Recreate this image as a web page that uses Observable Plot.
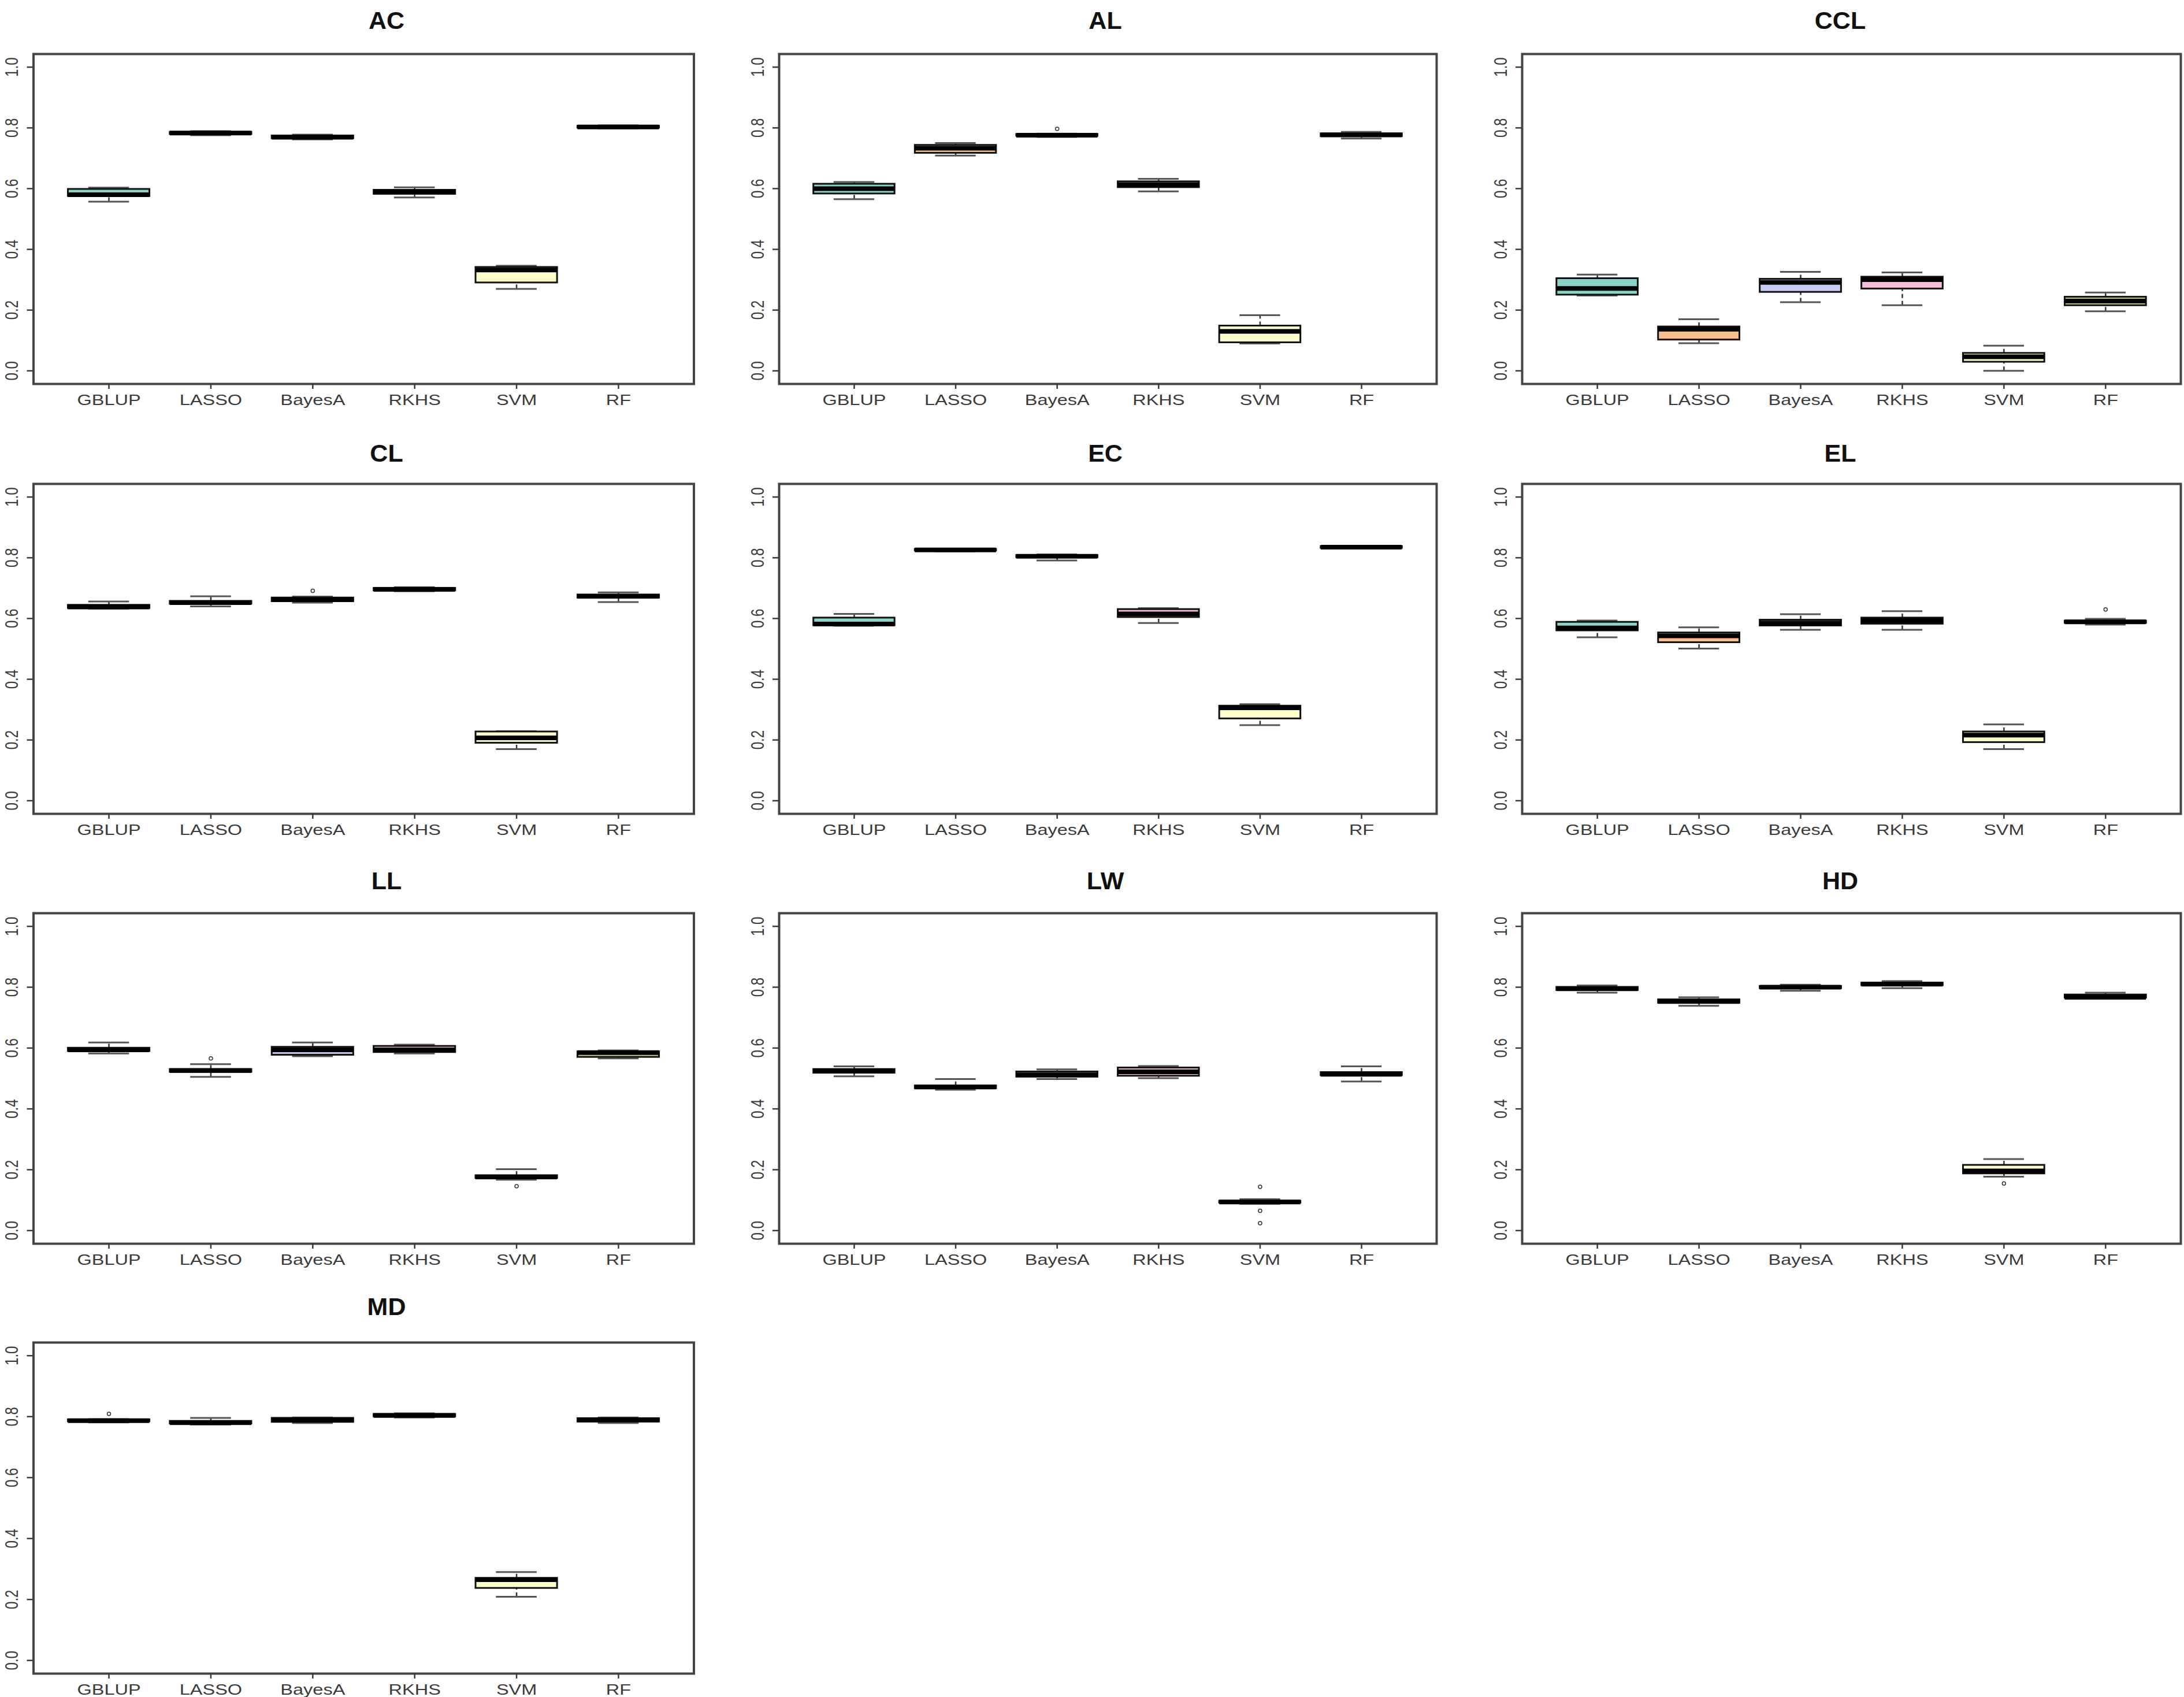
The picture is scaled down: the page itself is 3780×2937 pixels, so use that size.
<!DOCTYPE html>
<html>
<head>
<meta charset="utf-8">
<script src="https://cdn.jsdelivr.net/npm/d3@7"></script>
<script src="https://cdn.jsdelivr.net/npm/@observablehq/plot@0.6"></script>
<style>
html, body { margin: 0; padding: 0; background: #fff; }
#root { position: relative; width: 3780px; height: 2937px; overflow: hidden; background: #fff; }
.panel { position: absolute; }
.title { position: absolute; font-family: "Liberation Sans", Arial, sans-serif; font-weight: bold; font-size: 43px; color: #111; transform: translate(-50%, -50%); white-space: nowrap; }
</style>
</head>
<body>
<div id="root"></div>
<script>
// ---- data ----
const traits = ["AC", "AL", "CCL", "CL", "EC", "EL", "LL", "LW", "HD", "MD"];
const methods = ["GBLUP", "LASSO", "BayesA", "RKHS", "SVM", "RF"];
const boxColors = ["#8DD3C7", "#F9C08F", "#C6CCF2", "#F2BEDD", "#FFFFCC", "#C8D27E"];
const yTicks = [0, 0.2, 0.4, 0.6, 0.8, 1.0];

// each row: [lower whisker, Q1, median, Q3, upper whisker] for GBLUP, LASSO, BayesA, RKHS, SVM, RF
const AC = [
  [0.557, 0.575, 0.580, 0.598, 0.603],
  [0.776, 0.779, 0.783, 0.786, 0.789],
  [0.762, 0.765, 0.769, 0.774, 0.778],
  [0.571, 0.582, 0.589, 0.595, 0.604],
  [0.270, 0.290, 0.332, 0.341, 0.346],
  [0.798, 0.800, 0.803, 0.806, 0.808]
];
const AL = [
  [0.565, 0.583, 0.600, 0.615, 0.622],
  [0.709, 0.717, 0.733, 0.743, 0.750],
  [0.770, 0.773, 0.776, 0.779, 0.781],
  [0.591, 0.604, 0.613, 0.623, 0.632],
  [0.090, 0.093, 0.130, 0.148, 0.183],
  [0.765, 0.772, 0.777, 0.781, 0.787]
];
const CCL = [
  [0.248, 0.250, 0.271, 0.304, 0.317],
  [0.091, 0.102, 0.137, 0.145, 0.170],
  [0.226, 0.259, 0.291, 0.302, 0.326],
  [0.216, 0.270, 0.300, 0.309, 0.324],
  [0.000, 0.029, 0.046, 0.058, 0.083],
  [0.196, 0.215, 0.230, 0.243, 0.258]
];
const CL = [
  [0.632, 0.634, 0.638, 0.644, 0.656],
  [0.640, 0.648, 0.652, 0.657, 0.673],
  [0.652, 0.656, 0.662, 0.668, 0.672],
  [0.690, 0.692, 0.696, 0.700, 0.703],
  [0.170, 0.190, 0.207, 0.227, 0.229],
  [0.654, 0.668, 0.673, 0.678, 0.686]
];
const EC = [
  [0.576, 0.577, 0.582, 0.602, 0.615],
  [0.821, 0.823, 0.826, 0.828, 0.830],
  [0.791, 0.801, 0.805, 0.808, 0.811],
  [0.585, 0.604, 0.615, 0.630, 0.634],
  [0.249, 0.270, 0.306, 0.312, 0.318],
  [0.830, 0.832, 0.835, 0.837, 0.839]
];
const EL = [
  [0.538, 0.560, 0.569, 0.588, 0.593],
  [0.501, 0.521, 0.543, 0.553, 0.571],
  [0.563, 0.576, 0.585, 0.595, 0.614],
  [0.563, 0.582, 0.593, 0.602, 0.624],
  [0.170, 0.192, 0.216, 0.227, 0.251],
  [0.580, 0.585, 0.589, 0.592, 0.599]
];
const LL = [
  [0.582, 0.590, 0.594, 0.600, 0.618],
  [0.505, 0.521, 0.526, 0.530, 0.547],
  [0.573, 0.577, 0.594, 0.603, 0.618],
  [0.582, 0.586, 0.594, 0.606, 0.611],
  [0.167, 0.172, 0.176, 0.181, 0.202],
  [0.566, 0.570, 0.585, 0.588, 0.592]
];
const LW = [
  [0.507, 0.518, 0.524, 0.530, 0.540],
  [0.463, 0.467, 0.472, 0.476, 0.498],
  [0.498, 0.505, 0.512, 0.522, 0.530],
  [0.501, 0.508, 0.522, 0.535, 0.541],
  [0.088, 0.091, 0.094, 0.097, 0.103],
  [0.490, 0.510, 0.514, 0.520, 0.540]
];
const HD = [
  [0.782, 0.790, 0.795, 0.800, 0.806],
  [0.739, 0.748, 0.753, 0.759, 0.767],
  [0.788, 0.796, 0.800, 0.803, 0.808],
  [0.797, 0.806, 0.810, 0.814, 0.820],
  [0.177, 0.187, 0.196, 0.215, 0.235],
  [0.762, 0.765, 0.767, 0.775, 0.782]
];
const MD = [
  [0.781, 0.784, 0.787, 0.790, 0.792],
  [0.774, 0.777, 0.780, 0.785, 0.796],
  [0.779, 0.782, 0.788, 0.795, 0.797],
  [0.797, 0.800, 0.804, 0.808, 0.811],
  [0.209, 0.237, 0.265, 0.270, 0.290],
  [0.779, 0.783, 0.789, 0.794, 0.797]
];

// outliers
const outTrait  = ["AL",     "CL",     "EL", "LL",    "LL",  "LW",  "LW",  "LW",  "HD",  "MD"];
const outMethod = ["BayesA", "BayesA", "RF", "LASSO", "SVM", "SVM", "SVM", "SVM", "SVM", "GBLUP"];
const outValue  = [0.797,    0.691,    0.630, 0.566,  0.146, 0.144, 0.065, 0.024, 0.155, 0.809];

// ---- layout (pixels) ----
const statsByTrait = {AC, AL, CCL, CL, EC, EL, LL, LW, HD, MD};
const colLeft = [0, 1260, 2520];
const colMargins = [[57.5, 59.5], [88, 34], [114, 6]];
const colTitleX = [669, 1913, 3185];
const rowTop = [0, 740, 1480, 2220];
const rowHeight = [740, 740, 740, 717];
const rowMargins = [[93, 76], [97, 72], [100, 68], [103, 41]];
const rowTitleY = [35, 784, 1524, 2261];

const root = document.getElementById("root");

function stretchText(svg, sx) {
  d3.select(svg).selectAll("text").each(function () {
    const t = this.getAttribute("transform");
    if (t && /^translate\([^)]*\)/.test(t)) {
      this.setAttribute("transform", t.replace(/^(translate\([^)]*\))/, `$1 scale(${sx},1)`));
    }
  });
}

traits.forEach((trait, k) => {
  const col = k % 3, row = Math.floor(k / 3);
  const s = statsByTrait[trait];
  const data = methods.map((m, i) => ({
    i: i + 1, method: m,
    lo: s[i][0], q1: s[i][1], med: s[i][2], q3: s[i][3], hi: s[i][4],
    color: boxColors[i]
  }));
  const outs = outTrait.map((t, j) => ({t, i: methods.indexOf(outMethod[j]) + 1, v: outValue[j]}))
    .filter(d => d.t === trait);

  const plot = Plot.plot({
    width: 1260,
    height: rowHeight[row],
    marginLeft: colMargins[col][0],
    marginRight: colMargins[col][1],
    marginTop: rowMargins[row][0],
    marginBottom: rowMargins[row][1],
    x: {domain: [0.26, 6.74], axis: null},
    y: {domain: [-0.0432, 1.0432], axis: null},
    color: {type: "identity"},
    style: {fontFamily: "'Liberation Sans', Arial, sans-serif", background: "white", overflow: "visible"},
    marks: [
      // whiskers (dashed)
      Plot.ruleX(data, {x: "i", y1: "q3", y2: "hi", stroke: "#333", strokeWidth: 2.5, strokeDasharray: "7,5"}),
      Plot.ruleX(data, {x: "i", y1: "lo", y2: "q1", stroke: "#333", strokeWidth: 2.5, strokeDasharray: "7,5"}),
      // staples
      Plot.ruleY(data, {y: "hi", x1: d => d.i - 0.2, x2: d => d.i + 0.2, stroke: "#555", strokeWidth: 3}),
      Plot.ruleY(data, {y: "lo", x1: d => d.i - 0.2, x2: d => d.i + 0.2, stroke: "#555", strokeWidth: 3}),
      // boxes
      Plot.rect(data, {x1: d => d.i - 0.4, x2: d => d.i + 0.4, y1: "q1", y2: "q3", fill: "color", stroke: "#111", strokeWidth: 3}),
      // medians
      Plot.ruleY(data, {y: "med", x1: d => d.i - 0.4, x2: d => d.i + 0.4, stroke: "#000", strokeWidth: 8}),
      // outliers
      Plot.dot(outs, {x: "i", y: "v", r: 3, stroke: "#333", strokeWidth: 1.5, fill: "none"}),
      Plot.frame({stroke: "#444", strokeWidth: 4}),
      Plot.axisX({ticks: [1, 2, 3, 4, 5, 6], tickFormat: i => methods[i - 1], tickSize: 9, tickPadding: 10,
                  fontSize: 25, color: "#3a3a3a", strokeWidth: 2.5, label: null}),
      Plot.axisY({ticks: yTicks, tickSize: 11, tickFormat: () => "", color: "#3a3a3a", strokeWidth: 2.5, label: null}),
      Plot.text(yTicks, {y: d => d, text: d => d.toFixed(1), frameAnchor: "left", dx: -37, rotate: -90,
                         fontSize: 24, fill: "#3a3a3a", textAnchor: "middle"})
    ]
  });
  stretchText(plot, 1.3);
  plot.classList.add("panel");
  plot.style.left = colLeft[col] + "px";
  plot.style.top = rowTop[row] + "px";
  root.appendChild(plot);

  const title = document.createElement("div");
  title.className = "title";
  title.textContent = trait;
  title.style.left = colTitleX[col] + "px";
  title.style.top = rowTitleY[row] + "px";
  root.appendChild(title);
});
</script>
</body>
</html>
